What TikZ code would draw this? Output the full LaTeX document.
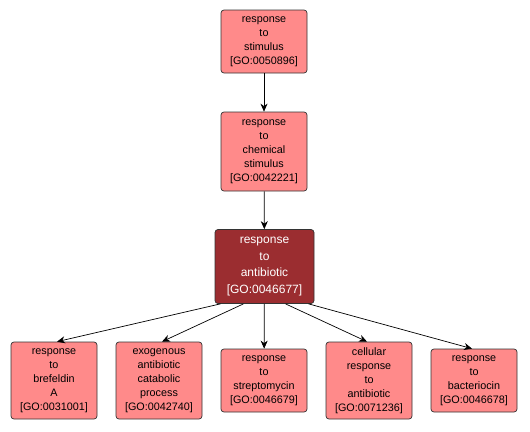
\documentclass[tikz,border=0pt]{standalone}
\usepackage{fontspec}
\setmainfont{Liberation Sans}
\usetikzlibrary{arrows.meta}
\definecolor{goterm}{HTML}{FF8A8A}
\definecolor{gofocus}{HTML}{9B2D30}
\tikzset{
    goterm/.style={draw=black!80,fill=goterm,rounded corners=3pt,align=center,
        font=\fontsize{10.8}{14}\selectfont,inner sep=0pt,line width=0.7pt},
    gofocus/.style={goterm,fill=gofocus,text=white,font=\fontsize{12}{16.5}\selectfont},
    golink/.style={-{Stealth[length=8pt,width=7pt,inset=2.5pt]},line width=0.7pt}
}
\begin{document}
\begin{tikzpicture}[x=1pt,y=-1pt]
        \useasboundingbox (0,0) rectangle (530,431);
        \node [goterm,minimum width=86pt,minimum height=63pt] (stim) at (264,41.5) {response\\to\\stimulus\\{[GO:0050896]}};
        \node [goterm,minimum width=86pt,minimum height=79pt] (chem) at (264,151.5) {response\\to\\chemical\\stimulus\\{[GO:0042221]}};
        \node [gofocus,minimum width=99pt,minimum height=74pt] (anti) at (264.5,266.5) {response\\to\\antibiotic\\{[GO:0046677]}};
        \node [goterm,minimum width=86pt,minimum height=77pt] (bref) at (54,380.5) {response\\to\\brefeldin\\A\\{[GO:0031001]}};
        \node [goterm,minimum width=86pt,minimum height=77pt] (exo) at (159,380.5) {exogenous\\antibiotic\\catabolic\\process\\{[GO:0042740]}};
        \node [goterm,minimum width=86pt,minimum height=63pt] (strep) at (264,380.5) {response\\to\\streptomycin\\{[GO:0046679]}};
        \node [goterm,minimum width=86pt,minimum height=77pt] (cell) at (369,380.5) {cellular\\response\\to\\antibiotic\\{[GO:0071236]}};
        \node [goterm,minimum width=86pt,minimum height=63pt] (bact) at (474,380.5) {response\\to\\bacteriocin\\{[GO:0046678]}};
        \draw [golink] (stim) -- (chem);
        \draw [golink] (chem) -- (anti);
        \draw [golink] ([xshift=-44pt]anti.south) -- ([xshift=3pt]bref.north);
        \draw [golink] ([xshift=-21pt]anti.south) -- ([xshift=3pt]exo.north);
        \draw [golink] (anti) -- (strep);
        \draw [golink] ([xshift=21pt]anti.south) -- ([xshift=-2pt]cell.north);
        \draw [golink] ([xshift=44pt]anti.south) -- ([xshift=-2pt]bact.north);
    \end{tikzpicture}
\end{document}
